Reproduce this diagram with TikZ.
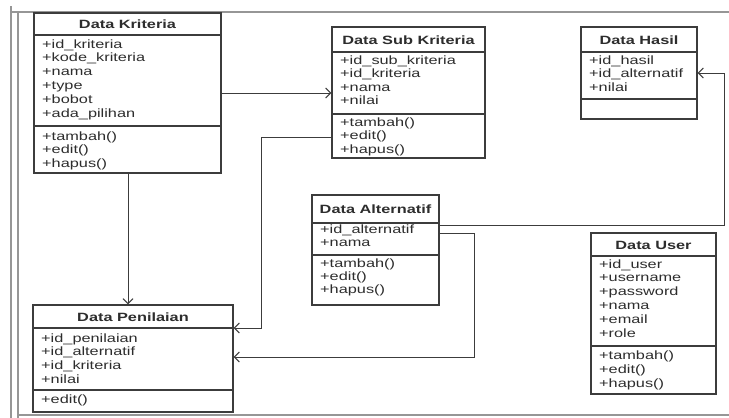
\documentclass[tikz,border=0pt]{standalone}
\usepackage{fontspec}
\setmainfont{Liberation Sans}[FakeStretch=1.36]
\usetikzlibrary{arrows.meta,calc,fit}
\definecolor{ln}{RGB}{60,60,60}
\definecolor{txt}{RGB}{45,45,45}
\definecolor{frm}{RGB}{150,150,150}
\tikzset{
  x=1pt, y=-1pt,
  box/.style={draw=ln, line width=1.2pt, inner sep=0pt},
  sepline/.style={draw=ln, line width=1.2pt},
  row/.style={anchor=base west, inner sep=0pt, text=txt, font=\fontsize{12}{14}\selectfont},
  ttl/.style={anchor=base, inner sep=0pt, text=txt, font=\fontsize{12}{14}\selectfont\bfseries},
  assoc/.style={draw=ln, line width=1pt, -{Straight Barb[length=5pt,width=10pt]}},
  frameline/.style={draw=frm, line width=1.3pt},
}
% name, x1, y1, x2, y2, yheader, ysep, title
\newcommand\umlcls[8]{%
  \coordinate (#1-nw) at (#2,#3);
  \coordinate (#1-se) at (#4,#5);
  \node[box, fit=(#1-nw)(#1-se)] (#1) {};
  \draw[sepline] (#1.west |- 0,#6) -- (#1.east |- 0,#6);
  \draw[sepline] (#1.west |- 0,#7) -- (#1.east |- 0,#7);
  \node[ttl] (#1-title) at ({(#2+#4)/2},{(#3+#6)/2+4.5}) {#8};
}
% prefix, x, ystart (centre of first row), step, list
\newcommand\umlrows[5]{%
  \foreach \t [count=\i] in {#5} {
    \node[row] (#1-\i) at ({#2+8},{#3+4+(\i-1)*#4}) {\t};
  }
}
\begin{document}
\begin{tikzpicture}
\useasboundingbox (0,0) rectangle (729,418);
\fill[white] (0,0) rectangle (729,418);
% frame
\draw[frameline] (11,6) -- (11,418);
\draw[frameline] (18,12) -- (18,418);
\draw[frameline] (11,12) -- (729,12);
\draw[frameline] (18,415) -- (729,415);

% classes
\umlcls{krit}{34}{13}{221}{173}{35}{126}{Data Kriteria}
\umlrows{krita}{34}{44}{13.8}{+id\_kriteria,+kode\_kriteria,+nama,+type,+bobot,+ada\_pilihan}
\umlrows{kritm}{34}{136}{13.8}{+tambah(),+edit(),+hapus()}

\umlcls{sub}{332}{27}{485}{158}{52}{114}{Data Sub Kriteria}
\umlrows{suba}{332}{60}{13.5}{+id\_sub\_kriteria,+id\_kriteria,+nama,+nilai}
\umlrows{subm}{332}{122}{13.8}{+tambah(),+edit(),+hapus()}

\umlcls{has}{581}{27}{697}{119}{52}{99}{Data Hasil}
\umlrows{hasa}{581}{60}{13.5}{+id\_hasil,+id\_alternatif,+nilai}

\umlcls{alt}{312}{195}{439}{305}{223}{255}{Data Alternatif}
\umlrows{alta}{312}{229}{13.5}{+id\_alternatif,+nama}
\umlrows{altm}{312}{263}{13.2}{+tambah(),+edit(),+hapus()}

\umlcls{pen}{33}{305}{233}{412}{328}{390}{Data Penilaian}
\umlrows{pena}{33}{338}{13.8}{+id\_penilaian,+id\_alternatif,+id\_kriteria,+nilai}
\umlrows{penm}{33}{399}{13.8}{+edit()}

\umlcls{usr}{591}{233}{716}{394}{256}{346}{Data User}
\umlrows{usra}{591}{264}{13.9}{+id\_user,+username,+password,+nama,+email,+role}
\umlrows{usrm}{591}{355}{14}{+tambah(),+edit(),+hapus()}

% routing points
\coordinate (c1) at (128,93);
\coordinate (c2) at (261,137);
\coordinate (c3) at (261,328);
\coordinate (c4) at (724,225);
\coordinate (c5) at (724,73);
\coordinate (c6) at (474,233);
\coordinate (c7) at (474,357);

% connectors
\draw[assoc] (krit.east |- c1) -- (sub.west |- c1);
\draw[assoc] (krit.south -| c1) -- (pen.north -| c1);
\draw[assoc] (sub.west |- c2) -- (c2) -- (c3) -- (pen.east |- c3);
\draw[assoc] (alt.east |- c4) -- (c4) -- (c5) -- (has.east |- c5);
\draw[assoc] (alt.east |- c6) -- (c6) -- (c7) -- (pen.east |- c7);
\end{tikzpicture}
\end{document}
